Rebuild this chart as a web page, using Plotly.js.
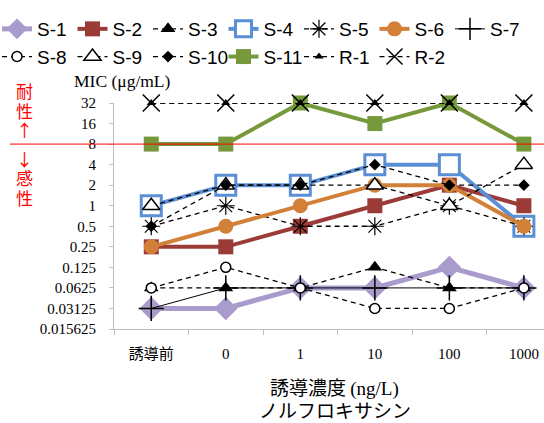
<!DOCTYPE html>
<html><head><meta charset="utf-8">
<script src="https://cdn.plot.ly/plotly-3.0.1.min.js"></script>
<style>html,body{margin:0;padding:0;background:#fff}#c{width:544px;height:423px}</style>
</head><body><div id="c"></div>
<script>
const categories = ["誘導前", "0", "1", "10", "100", "1000"];
const seriesNames = ["S-1","S-2","S-3","S-4","S-5","S-6","S-7","S-8","S-9","S-10","S-11","R-1","R-2"];
const s1  = [0.03125, 0.03125, 0.0625, 0.0625, 0.125, 0.0625];
const s2  = [0.25, 0.25, 0.5, 1, 2, 1];
const s3  = [0.0625, 0.0625, 0.0625, 0.125, 0.0625, 0.0625];
const s4  = [1, 2, 2, 4, 4, 0.5];
const s5  = [0.5, 1, 0.5, 0.5, 1, 0.5];
const s6  = [0.25, 0.5, 1, 2, 2, 0.5];
const s7  = [0.03125, 0.0625, 0.0625, 0.0625, 0.0625, 0.0625];
const s8  = [0.0625, 0.125, 0.0625, 0.03125, 0.03125, 0.0625];
const s9  = [1, 2, 2, 2, 1, 4];
const s10 = [0.5, 2, 2, 4, 2, 2];
const s11 = [8, 8, 32, 16, 32, 8];
const r1  = [32, 32, 32, 32, 32, 32];
const r2  = [32, 32, 32, 32, 32, 32];
const yTickVals = [0.015625, 0.03125, 0.0625, 0.125, 0.25, 0.5, 1, 2, 4, 8, 16, 32];
const yTickText = ["0.015625","0.03125","0.0625","0.125","0.25","0.5","1","2","4","8","16","32"];
const breakpoint = 8;
const resistLabel = ["耐", "性", "↑"];
const sensLabel = ["↓", "感", "性"];

const values = [s1,s2,s3,s4,s5,s6,s7,s8,s9,s10,s11,r1,r2];
const dash = "5px,4px";
const styles = [
  {line:{color:"#A99BCB",width:5}, marker:{symbol:"diamond",size:18,color:"#A99BCB"}},
  {line:{color:"#9B3B37",width:4}, marker:{symbol:"square",size:15,color:"#9B3B37"}},
  {line:{color:"#000",width:1.3,dash:dash}, marker:{symbol:"triangle-up",size:13,color:"#000"}},
  {line:{color:"#5B8FD5",width:4}, marker:{symbol:"square",size:20,color:"#fff",line:{color:"#5B8FD5",width:3}}},
  {line:{color:"#000",width:1.3,dash:dash}, marker:{symbol:"asterisk-open",size:15,color:"#000",line:{color:"#000",width:1.2}}},
  {line:{color:"#D27F38",width:4}, marker:{symbol:"circle",size:15,color:"#D27F38"}},
  {line:{color:"#000",width:1}, marker:{symbol:"cross-thin-open",size:18,color:"#000",line:{color:"#000",width:1.5}}},
  {line:{color:"#000",width:1.3,dash:dash}, marker:{symbol:"circle",size:10,color:"#fff",line:{color:"#000",width:1.5}}},
  {line:{color:"#000",width:1.3,dash:dash}, marker:{symbol:"triangle-up",size:15,color:"#fff",line:{color:"#000",width:1.5}}},
  {line:{color:"#000",width:1.3,dash:dash}, marker:{symbol:"diamond",size:9,color:"#000"}},
  {line:{color:"#76993B",width:4}, marker:{symbol:"square",size:15,color:"#76993B"}},
  {line:{color:"#000",width:1.3,dash:dash}, marker:{symbol:"triangle-up",size:8,color:"#000"}},
  {line:{color:"#000",width:1.3,dash:dash}, marker:{symbol:"x-thin-open",size:17,color:"#000",line:{color:"#000",width:1.5}}}
];
const traces = seriesNames.map((n,i)=>Object.assign({
  type:"scatter", mode:"lines+markers", name:n, x:categories, y:values[i], cliponaxis:false
}, styles[i]));

// pixel helpers for the fixed plot box (l=114, w=430, t=103, h=226)
const PL = 114, PW = 430, PT = 103, PH = 226;
const px = v => (v - PL) / PW;
const py = v => (PT + PH - v) / PH;

const serif = "Liberation Serif, Times New Roman, Noto Sans CJK JP, serif";
const cjk = "Noto Sans CJK JP, sans-serif";
const redY = [91, 110, 129, 158, 177, 197];
const redAnn = resistLabel.concat(sensLabel).map((t,i)=>({
  xref:"paper", yref:"paper", x:px(24), y:py(redY[i]), xanchor:"center", yanchor:"middle", showarrow:false,
  text:t, font:{family:cjk, size:17, color:"#FF0000"}
}));

const layout = {
  width:544, height:423,
  margin:{l:PL, r:0, t:PT, b:94, autoexpand:false},
  paper_bgcolor:"#fff", plot_bgcolor:"#fff",
  showlegend:true,
  legend:{orientation:"h", xref:"paper", yref:"paper", x:px(-3), y:py(10), xanchor:"left", yanchor:"top",
    entrywidth:30.5, entrywidthmode:"pixels", tracegroupgap:0, itemwidth:30,
    font:{family:"Liberation Sans, Arial, sans-serif", size:19, color:"#000"}, bgcolor:"rgba(0,0,0,0)"},
  xaxis:{type:"category", range:[-0.5, 5.27], tickson:"boundaries", ticks:"outside", ticklen:5,
    tickcolor:"#BFBFBF", showline:true, linecolor:"#BFBFBF", linewidth:1, showgrid:false, zeroline:false,
    tickfont:{family:serif, size:15, color:"#000"}, ticklabelstandoff:11},
  yaxis:{type:"log", range:[Math.log10(0.015625), Math.log10(32)], tickvals:yTickVals, ticktext:yTickText,
    ticks:"outside", ticklen:4, tickcolor:"#BFBFBF", showline:true, linecolor:"#BFBFBF", linewidth:1,
    showgrid:false, zeroline:false, tickfont:{family:serif, size:15, color:"#000"}, ticklabelstandoff:10},
  shapes:[{type:"line", xref:"paper", yref:"y", x0:px(10), x1:1, y0:breakpoint, y1:breakpoint,
    line:{color:"#FF0000", width:1}}],
  annotations:[
    {xref:"paper", yref:"paper", x:px(72), y:py(81), xanchor:"left", yanchor:"middle", showarrow:false,
     text:"MIC (μg/mL)", font:{family:serif, size:17.5, color:"#000"}},
    {xref:"paper", yref:"paper", x:px(334), y:py(386), xanchor:"center", yanchor:"middle", showarrow:false,
     text:"誘導濃度 <span style=\"font-family:Liberation Serif, Times New Roman, serif\">(ng/L)</span>",
     font:{family:cjk, size:19, color:"#000"}},
    {xref:"paper", yref:"paper", x:px(335), y:py(409), xanchor:"center", yanchor:"middle", showarrow:false,
     text:"ノルフロキサシン", font:{family:cjk, size:19, color:"#000"}}
  ].concat(redAnn)
};
Plotly.newPlot("c", traces, layout, {displayModeBar:false, staticPlot:true});
</script></body></html>
